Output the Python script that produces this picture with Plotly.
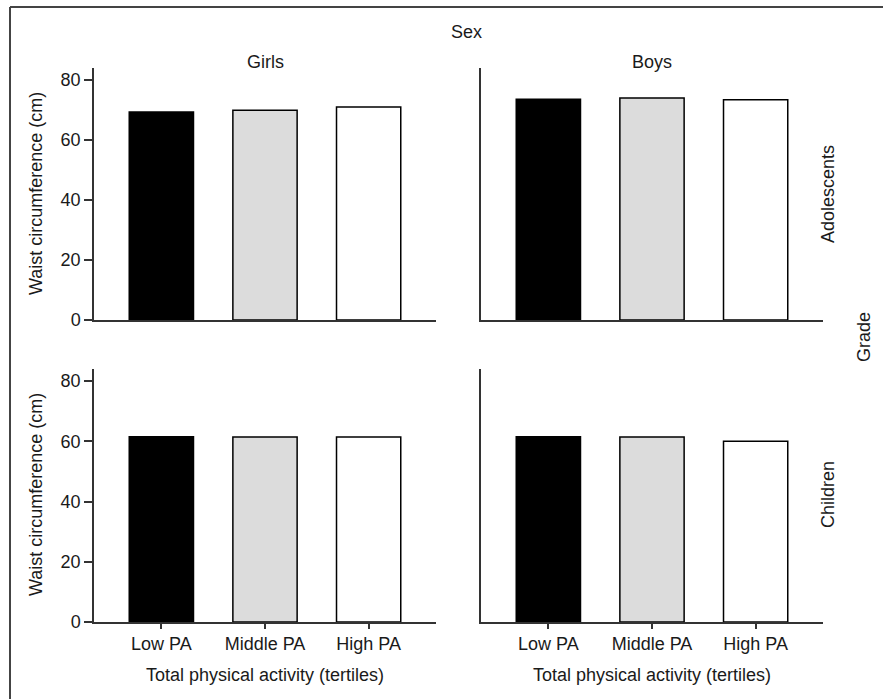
import plotly.graph_objects as go

# Waist circumference (cm) by tertile of total physical activity
categories = ["Low PA", "Middle PA", "High PA"]
girls_adolescents = [69.3, 69.9, 71.0]
boys_adolescents = [73.6, 74.0, 73.4]
girls_children = [61.5, 61.4, 61.4]
boys_children = [61.5, 61.4, 60.0]
y_ticks = [0, 20, 40, 60, 80]

bar_colors = ["#000000", "#dcdcdc", "#ffffff"]
FONT = "Liberation Sans, Arial, Helvetica, sans-serif"
TEXT = "#1a1a1a"
AXIS = "#333333"

W, H = 883, 699

def px_x(x):
    return x / W

def px_y(y):
    return 1 - y / H

x_dom = {"L": [px_x(94), px_x(436)], "R": [px_x(481), px_x(823)]}
y_dom = {"T": [px_y(320), px_y(68)], "B": [px_y(622), px_y(369)]}

panels = [
    ("x", "y", "L", "T", girls_adolescents),
    ("x2", "y2", "R", "T", boys_adolescents),
    ("x3", "y3", "L", "B", girls_children),
    ("x4", "y4", "R", "B", boys_children),
]

fig = go.Figure()
for xa, ya, col, row, vals in panels:
    fig.add_trace(go.Bar(
        x=categories, y=vals, xaxis=xa, yaxis=ya,
        marker=dict(color=bar_colors, line=dict(color="#000000", width=1.5)),
        width=0.62, showlegend=False, hoverinfo="x+y",
    ))

layout = dict(
    template="none",
    width=W, height=H, autosize=False,
    margin=dict(l=0, r=0, t=0, b=0, pad=0),
    paper_bgcolor="white", plot_bgcolor="white",
    font=dict(family=FONT, size=18, color=TEXT),
)

for xa, ya, col, row, vals in panels:
    xkey = "xaxis" if xa == "x" else "xaxis" + xa[1:]
    ykey = "yaxis" if ya == "y" else "yaxis" + ya[1:]
    bottom = row == "B"
    left = col == "L"
    layout[xkey] = dict(
        domain=x_dom[col], anchor=ya, range=[-0.65, 2.65], automargin=False,
        showline=True, linecolor=AXIS, linewidth=1.5,
        showgrid=False, zeroline=False,
        ticks="outside" if bottom else "", ticklen=5, tickwidth=1.5, tickcolor=AXIS,
        showticklabels=bottom, fixedrange=True,
        categoryorder="array", categoryarray=categories,
    )
    layout[ykey] = dict(
        domain=y_dom[row], anchor=xa, range=[0, 84], automargin=False,
        showline=True, linecolor=AXIS, linewidth=1.5,
        showgrid=False, zeroline=False,
        tickvals=y_ticks if left else [],
        ticks="outside" if left else "", ticklen=8, tickwidth=1.5, tickcolor=AXIS,
        showticklabels=left, fixedrange=True,
    )

fig.update_layout(**layout)

ann = []
def text(x, y, s, angle=0):
    ann.append(dict(x=px_x(x), y=px_y(y), xref="paper", yref="paper", text=s,
                    showarrow=False, textangle=angle, xanchor="center",
                    yanchor="middle", font=dict(family=FONT, size=18, color=TEXT)))

text(466, 32, "Sex")
text(265, 62, "Girls")
text(652, 62, "Boys")
text(828, 194, "Adolescents", -90)
text(828, 495, "Children", -90)
text(864, 337, "Grade", -90)
text(36, 194, "Waist circumference (cm)", -90)
text(36, 495, "Waist circumference (cm)", -90)
text(265, 675, "Total physical activity (tertiles)")
text(652, 675, "Total physical activity (tertiles)")
fig.update_layout(annotations=ann)

# frame lines along the top and left edges
fig.add_shape(type="line", xref="paper", yref="paper",
              x0=px_x(10), x1=1, y0=px_y(7), y1=px_y(7),
              line=dict(color="#444444", width=2))
fig.add_shape(type="line", xref="paper", yref="paper",
              x0=px_x(10), x1=px_x(10), y0=px_y(7), y1=0,
              line=dict(color="#444444", width=2))

fig.write_html("out.html", config={"responsive": False})
